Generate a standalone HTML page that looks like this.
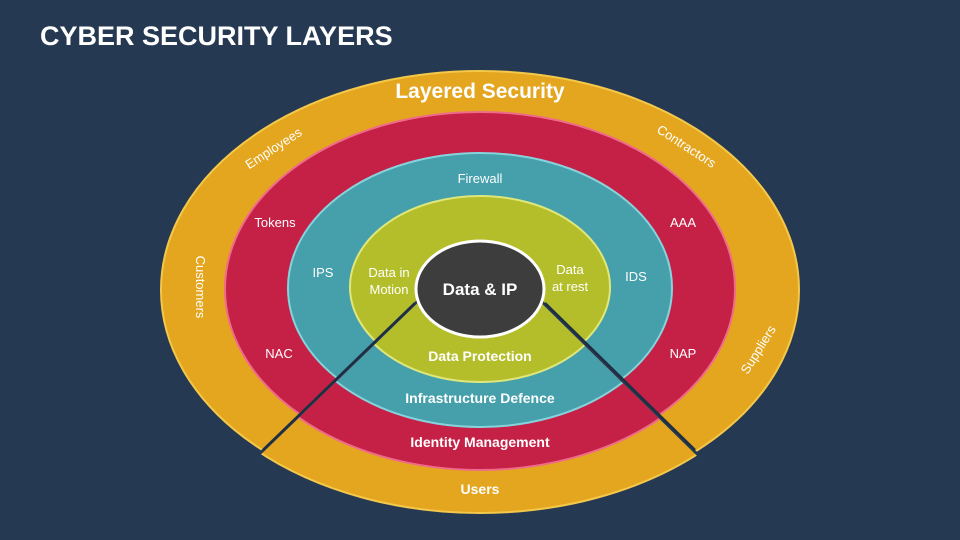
<!DOCTYPE html>
<html><head><meta charset="utf-8"><style>
html,body{margin:0;padding:0;background:#253a52;}
svg{display:block;font-family:"Liberation Sans",sans-serif;}
</style></head><body>
<svg width="960" height="540" viewBox="0 0 960 540" xmlns="http://www.w3.org/2000/svg">
<defs>
<clipPath id="top"><polygon points="0,0 960,0 960,600 848,600 480,239 106,600 0,600"/></clipPath>
<clipPath id="wedge"><polygon points="480,239 848,600 106,600"/></clipPath>
<g id="rings">
<ellipse cx="480" cy="290" rx="319" ry="219" fill="#e4a51f" stroke="#f4c84a" stroke-width="2"/>
<ellipse cx="480" cy="289" rx="255" ry="177" fill="#c52046" stroke="#ee6c8a" stroke-width="2"/>
<ellipse cx="480" cy="288" rx="192" ry="135" fill="#45a0ab" stroke="#86d3dc" stroke-width="2"/>
<ellipse cx="480" cy="287" rx="130" ry="91" fill="#b4be2a" stroke="#dfe67a" stroke-width="2"/>
</g>
</defs>
<rect width="960" height="540" fill="#253a52"/>
<text x="40" y="45" fill="#fff" font-size="27" font-weight="bold">CYBER SECURITY LAYERS</text>
<g clip-path="url(#top)"><use href="#rings"/></g>
<g transform="translate(0,4)"><g clip-path="url(#wedge)"><use href="#rings"/></g></g>
<line x1="415" y1="303" x2="263" y2="450" stroke="#1e2f44" stroke-width="2.5"/>
<line x1="545" y1="303" x2="695" y2="450" stroke="#1e2f44" stroke-width="2.5"/>
<ellipse cx="480" cy="289" rx="64" ry="48" fill="#3d3d3d" stroke="#fff" stroke-width="3"/>
<g fill="#fff" text-anchor="middle" font-size="13">
<text x="480" y="98" font-size="21" font-weight="bold">Layered Security</text>
<text transform="translate(276,152) rotate(-33)">Employees</text>
<text transform="translate(684,150) rotate(33)">Contractors</text>
<text transform="translate(196,287) rotate(90)">Customers</text>
<text transform="translate(762,352) rotate(-58)">Suppliers</text>
<text x="480" y="494" font-size="14" font-weight="bold">Users</text>
<text x="275" y="227">Tokens</text>
<text x="683" y="227">AAA</text>
<text x="279" y="358">NAC</text>
<text x="683" y="358">NAP</text>
<text x="480" y="447" font-size="14" font-weight="bold">Identity Management</text>
<text x="480" y="183">Firewall</text>
<text x="323" y="277">IPS</text>
<text x="636" y="281">IDS</text>
<text x="480" y="403" font-size="14" font-weight="bold">Infrastructure Defence</text>
<text x="389" y="277">Data in</text>
<text x="389" y="294">Motion</text>
<text x="570" y="274">Data</text>
<text x="570" y="291">at rest</text>
<text x="480" y="361" font-size="14" font-weight="bold">Data Protection</text>
<text x="480" y="295" font-size="17" font-weight="bold">Data &amp; IP</text>
</g>
</svg>
</body></html>
